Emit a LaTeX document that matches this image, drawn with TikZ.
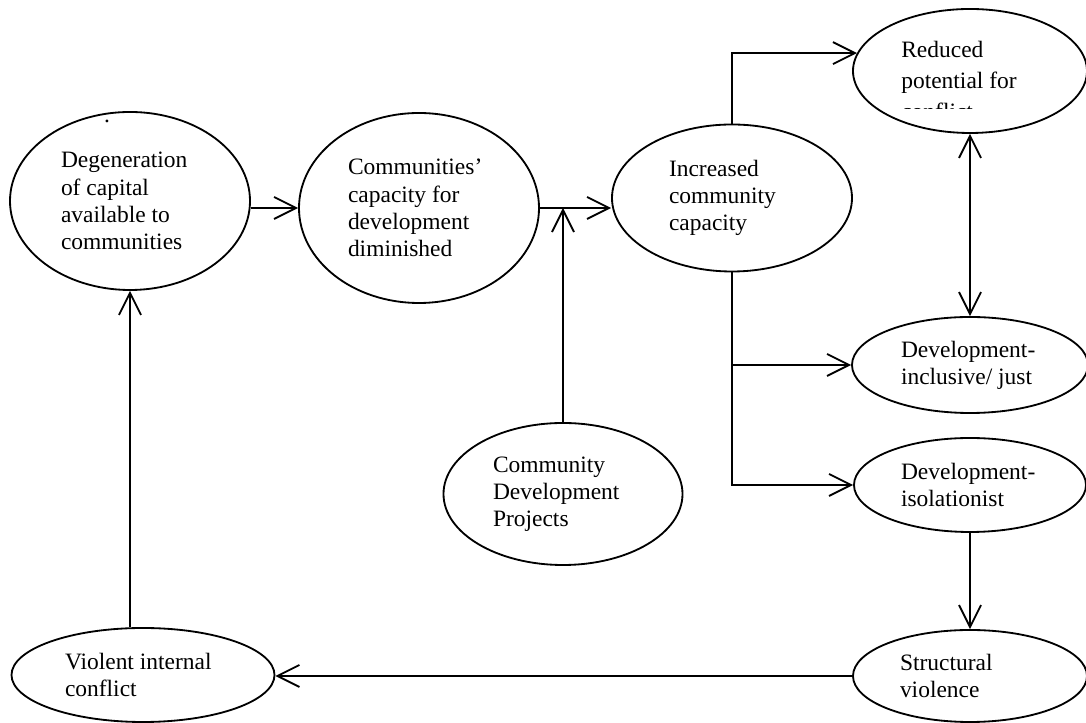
\documentclass[tikz,border=0pt]{standalone}
\usepackage{fontspec}
\setmainfont{Liberation Serif}
\usetikzlibrary{shapes.geometric,arrows.meta,positioning,calc}
\tikzset{
  ovalo/.style={ellipse, draw, line width=1.3pt, inner sep=0pt, align=flush left,
                font=\fontsize{16.7}{19.3}\selectfont},
  texto/.style={align=left, inner sep=0pt, font=\fontsize{16.7}{22}\selectfont},
  flecha/.style={-{Straight Barb[length=5.5mm,width=5.5mm]}, line width=1.3pt},
  doble/.style={{Straight Barb[length=5.5mm,width=5.5mm]}-{Straight Barb[length=5.5mm,width=5.5mm]},
                line width=1.3pt},
  linea/.style={line width=1.3pt}
}

\begin{document}
\begin{tikzpicture}
\useasboundingbox (0,0) rectangle (27.15,18.075);

% fila de arriba
\node[ovalo, minimum width=6cm, minimum height=4.45cm, text width=3.45cm] (degen) at (3.25,13.05)
  {Degeneration\\of capital\\available to\\communities};
\node[inner sep=0pt, font=\fontsize{16.7}{19.3}\selectfont] (punto) at (2.675,15.03) {.};
\node[ovalo, minimum width=6cm, minimum height=4.75cm, text width=3.55cm] (comm) at (10.475,12.875)
  {Communities'\\capacity for\\development\\diminished};
\node[ovalo, minimum width=6cm, minimum height=3.675cm, text width=3.15cm] (incr) at (18.3,13.125)
  {Increased\\community\\capacity};
\node[ovalo, minimum width=5.85cm, minimum height=3.1cm] (reduced) at (24.25,16.3) {};
\begin{scope}
  \clip (21.3,15.37) rectangle (27.15,18.075);
  \node[texto, anchor=north west] (redtxt) at (22.525,17.05)
    {Reduced\\potential for\\conflict};
\end{scope}

% columna derecha
\node[ovalo, minimum width=5.9cm, minimum height=2.4cm, text width=3.45cm] (incl) at (24.25,8.95)
  {Development-\\inclusive/ just};
\node[ovalo, minimum width=5.8cm, minimum height=2.35cm, text width=3.45cm] (isol) at (24.25,5.95)
  {Development-\\isolationist};
\node[ovalo, minimum width=5.85cm, minimum height=2.3cm, text width=3.5cm] (struct) at (24.25,1.175)
  {Structural\\violence};

% abajo y centro
\node[ovalo, minimum width=6.575cm, minimum height=2.35cm, text width=3.9cm] (violent) at (3.575,1.2)
  {Violent internal\\conflict};
\node[ovalo, minimum width=5.975cm, minimum height=3.55cm, text width=3.5cm] (cdp) at (14.075,5.725)
  {Community\\Development\\Projects};

% conectores
\draw[flecha] (degen.east |- comm.west) -- (comm.west);
\draw[flecha] (comm.east) -- (comm.east -| incr.west);
\coordinate (union) at (cdp.north |- comm.east);
\draw[flecha] (cdp.north) -- (union);
\draw[flecha] (incr.north) |- (reduced.171);
\draw[doble] (reduced.south) -- (incl.north);
\draw[flecha] (incr.south |- incl.west) -- (incl.west);
\draw[flecha] (incr.south) |- (isol.west);
\draw[flecha] (isol.south) -- (struct.north);
\draw[flecha] (struct.west) -- (struct.west -| violent.east);
\draw[flecha] (degen.south |- violent.north) -- (degen.south);
\end{tikzpicture}
\end{document}
